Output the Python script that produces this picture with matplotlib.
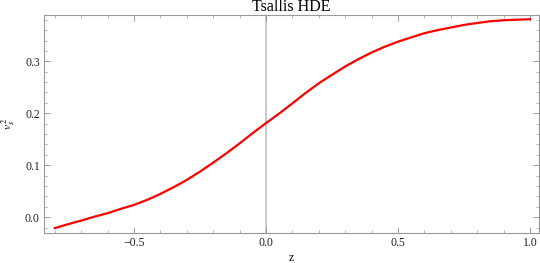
import matplotlib.pyplot as plt
from matplotlib.ticker import MultipleLocator

# values (step 0.05)
z = [-0.80, -0.75, -0.70, -0.65, -0.60, -0.55, -0.50, -0.45, -0.40, -0.35,
     -0.30, -0.25, -0.20, -0.15, -0.10, -0.05, 0.00, 0.05, 0.10, 0.15,
     0.20, 0.25, 0.30, 0.35, 0.40, 0.45, 0.50, 0.55, 0.60, 0.65,
     0.70, 0.75, 0.80, 0.85, 0.90, 0.95, 1.00]
vs2 = [-0.021, -0.0135, -0.0065, 0.001, 0.0077, 0.016, 0.0237, 0.0333, 0.0448, 0.0577,
       0.0717, 0.0877, 0.105, 0.123, 0.142, 0.162, 0.181, 0.1995, 0.219, 0.239,
       0.2577, 0.274, 0.290, 0.304, 0.317, 0.328, 0.3377, 0.346, 0.354, 0.360,
       0.365, 0.370, 0.3737, 0.377, 0.379, 0.380, 0.381]

plt.rcParams['font.family'] = ['Liberation Serif', 'DejaVu Serif']
plt.rcParams['mathtext.fontset'] = 'stix'
plt.rcParams['font.size'] = 8.5

fig = plt.figure(figsize=(5.4, 2.63), dpi=100)
ax = fig.add_axes([0.0815, 0.113, 0.9165, 0.831])

ax.axvline(0, color="#c0c0c0", lw=1.2, zorder=1)
ax.plot(z, vs2, color="red", lw=1.6, zorder=3)

ax.set_xlim(-0.841, 1.034)
ax.set_ylim(-0.031, 0.3896)
ax.xaxis.set_major_locator(MultipleLocator(0.5))
ax.xaxis.set_minor_locator(MultipleLocator(0.1))
ax.yaxis.set_major_locator(MultipleLocator(0.1))
ax.yaxis.set_minor_locator(MultipleLocator(0.02))
ax.set_xticks([-0.5, 0.0, 0.5, 1.0])
ax.set_xticklabels(["\u22120.5", "0.0", "0.5", "1.0"])
ax.set_yticks([0.0, 0.1, 0.2, 0.3])
ax.set_yticklabels(["0.0", "0.1", "0.2", "0.3"])

for s in ax.spines.values():
    s.set_color("#999999")
    s.set_linewidth(0.8)
ax.tick_params(which="both", direction="in", top=True, right=True, color="#999999", labelcolor="#222222", pad=3)
ax.tick_params(which="major", length=4, width=0.7)
ax.tick_params(which="minor", length=2, width=0.5)

ax.set_title("Tsallis HDE", fontsize=11.5, pad=1.5)
ax.set_xlabel("z", fontsize=8.5, labelpad=2)
ax.set_ylabel(r"$v_s^{\,2}$", fontsize=8.5, labelpad=6)

plt.savefig("out.png", dpi=100)
